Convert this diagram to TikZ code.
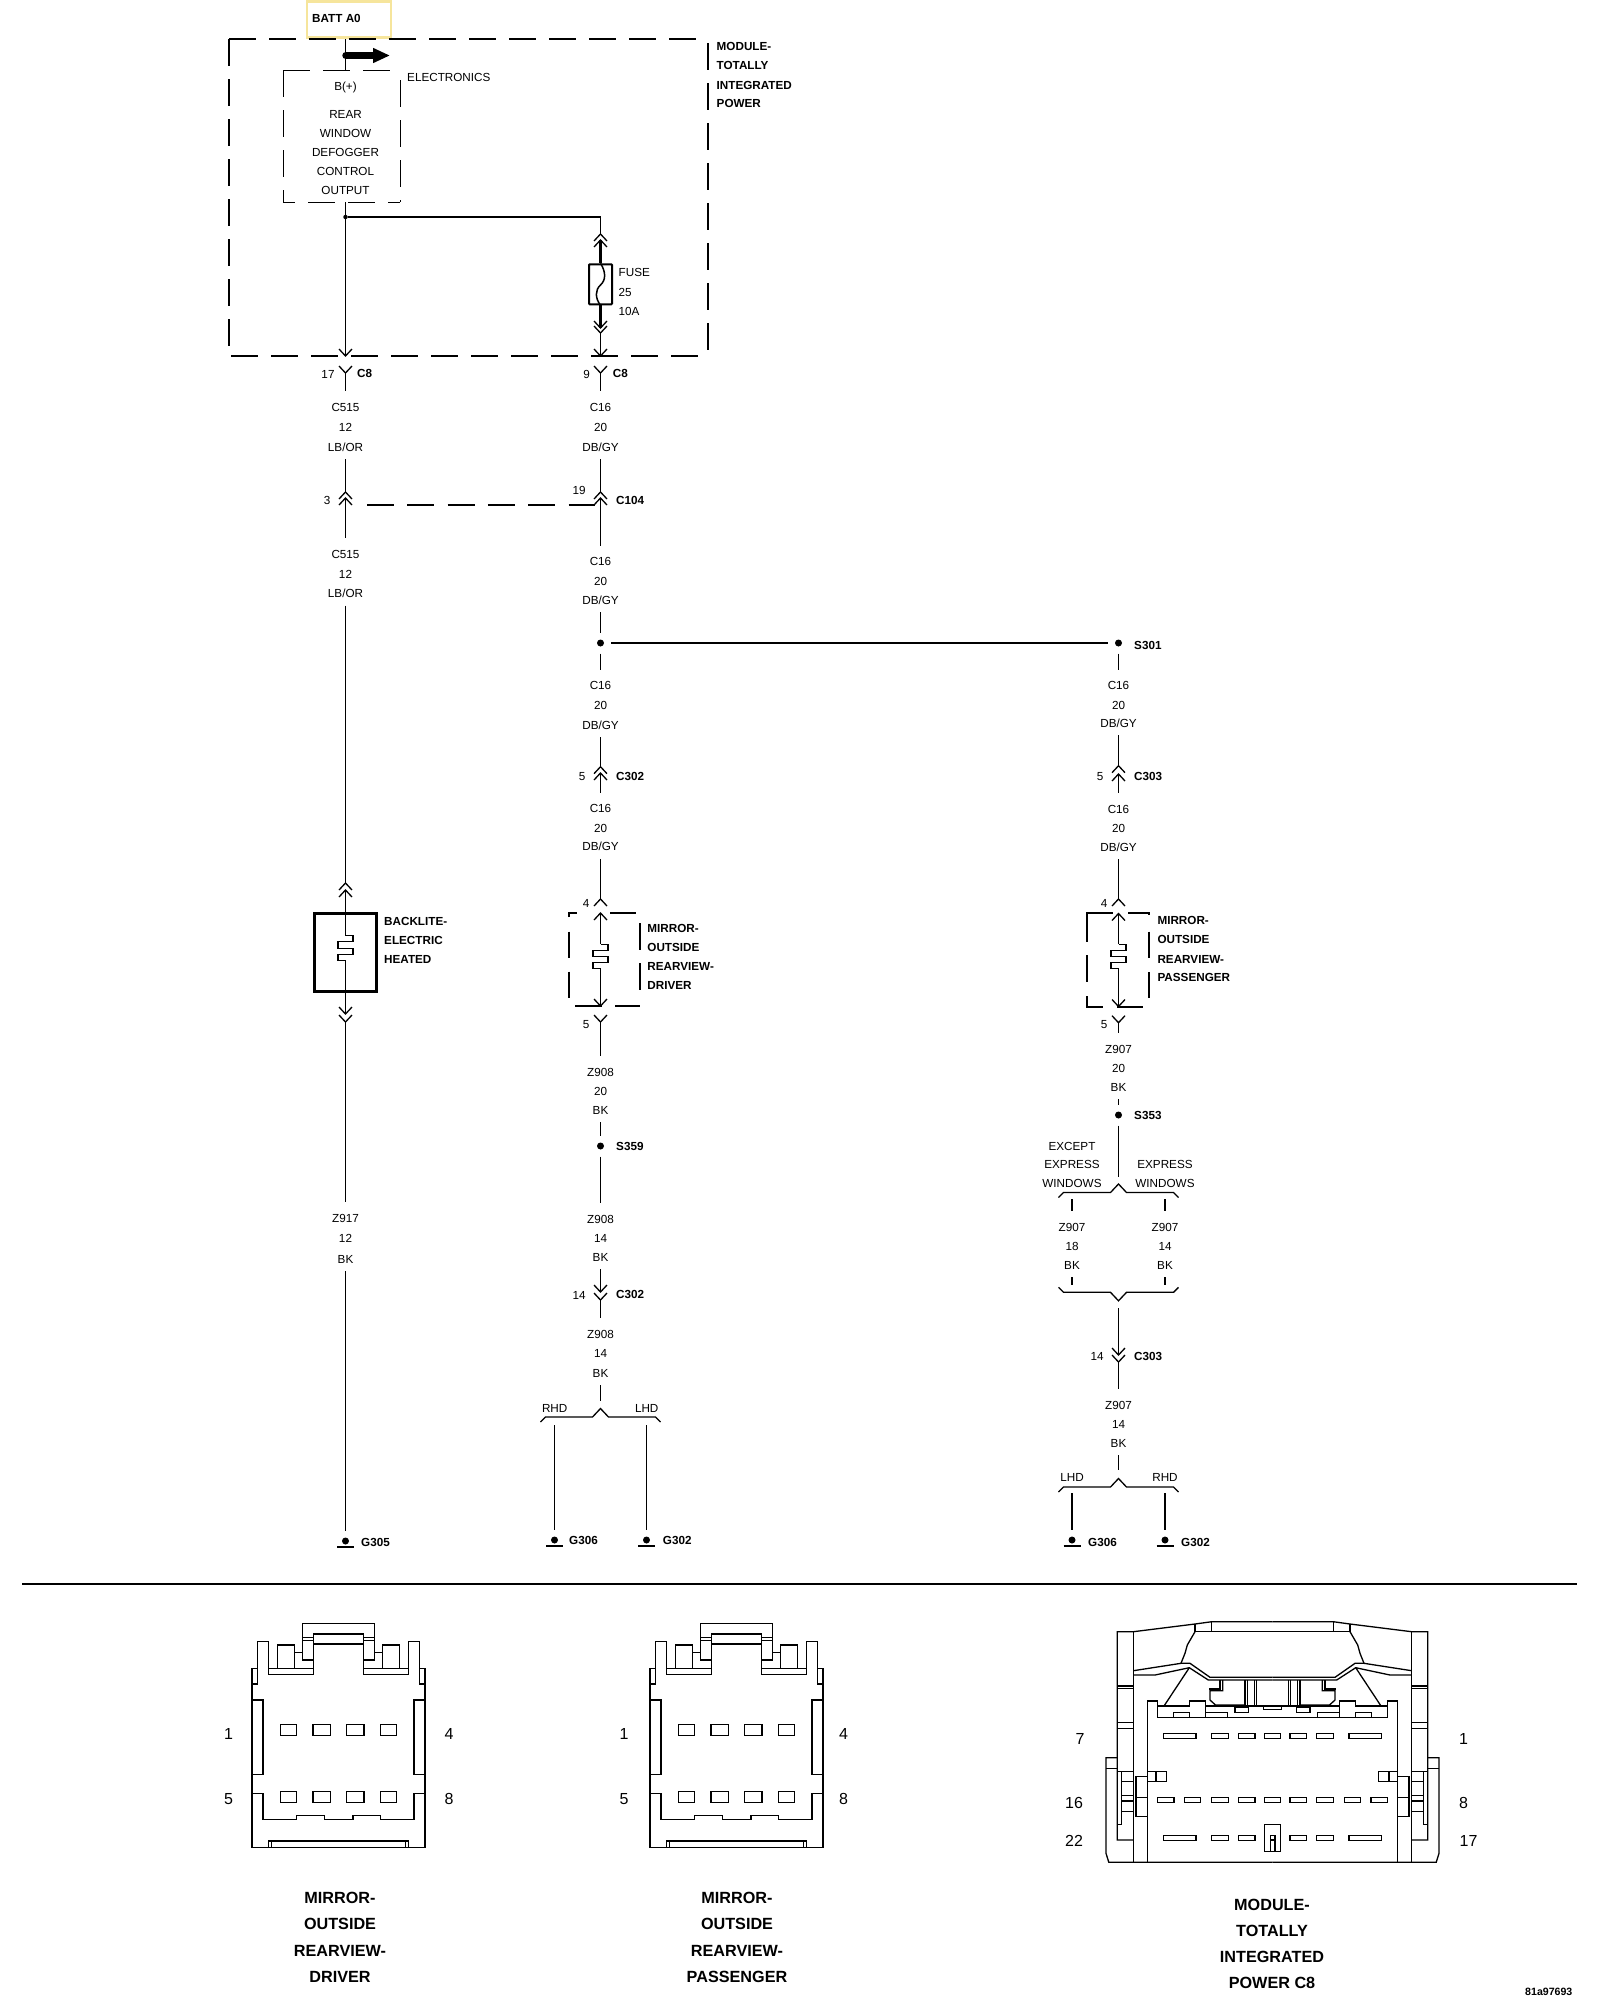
\documentclass[tikz,border=0pt]{standalone}
\usepackage{fontspec}
\setmainfont{Liberation Sans}
\usetikzlibrary{arrows.meta}
\definecolor{tagline}{HTML}{F6E59C}
\tikzset{
  wire/.style={line width=1.3pt},
  bwire/.style={line width=2.3pt},
  lbl/.style={font=\fontsize{11.7}{14}\selectfont,inner sep=0pt,text height=8.4pt,text depth=0pt},
  blbl/.style={lbl,font=\fontsize{11.7}{14}\selectfont\bfseries,anchor=west},
  pinl/.style={font=\fontsize{16}{18}\selectfont,inner sep=0pt,text height=11.5pt,text depth=0pt},
  capl/.style={font=\fontsize{16.2}{18}\selectfont\bfseries,inner sep=0pt,text height=11.6pt,text depth=0pt},
  dotn/.style={circle,fill,inner sep=0pt,minimum size=7pt,outer sep=7pt},
  gbar/.style={line width=2.2pt},
  modline/.style={line width=2.4pt,dash pattern=on 27pt off 13pt},
  elecline/.style={line width=1pt,dash pattern=on 27pt off 13pt},
  boxseg/.style={line width=2pt},
  tipup/.pic={\draw (-6.5,7)--(0,0)--(6.5,7);},
  tipdn/.pic={\draw (-6.5,-7)--(0,0)--(6.5,-7);},
  brkup/.pic={\draw (-60,5)--(-55,0)--(-8,0)--(0,-8.5)--(8,0)--(55,0)--(60,5);},
  brkdn/.pic={\draw (-60,-5)--(-55,0)--(-8,0)--(0,8.5)--(8,0)--(55,0)--(60,-5);},
  heater/.pic={\draw (0,0)--(7.5,0)--(7.5,6)--(-7.5,6)--(-7.5,12.5)--(7.5,12.5)--(7.5,18.5)--(-7.5,18.5)--(-7.5,24.5)--(0,24.5);},
  mirrorconn/.pic={
    \foreach \s in {1,-1}{
    \begin{scope}[x=0.41pt,y=-0.3333pt,xscale=\s]
      \draw (0,683)--(-211,683)--(-211,145)--(-198,145)--(-198,192)--(-211,192);
      \draw (-198,192)--(-198,65)--(-171,65)--(-171,163)--(-61,163)--(-61,120)--(-88,120)--(-88,62)--(-61,62)--(-61,120);
      \draw (-171,145)--(-61,145);
      \draw (-88,62)--(-88,10)--(0,10);
      \draw (-88,52)--(-61,52)--(-61,42)--(0,42);
      \draw (-61,52)--(-61,72)--(0,72);
      \draw (-149,145)--(-149,75)--(-107,75)--(-107,145);
      \draw (-107,97)--(-88,97);
      \draw (-211,240)--(-184,240)--(-184,463)--(-211,463);
      \draw (-211,520)--(-184,520)--(-184,598)--(-102,598)--(-102,587)--(-35,587)--(-35,598)--(0,598);
      \draw (-171,683)--(-171,663)--(0,663);
      \draw (-163,663)--(-163,683);
      \foreach \a/\b in {-142/-102,-62/-19}{
        \draw (\a,313) rectangle (\b,347);
        \draw (\a,514) rectangle (\b,548);
      }
    \end{scope}}
  },
  modconn/.pic={
    \foreach \s in {1,-1}{
    \begin{scope}[xscale=\s]
      \draw (0,1.7)--(-60.8,1.7)--(-77.5,4)--(-139.2,11.7)--(-155.2,11.7)--(-155.2,220)--(-139.2,220);
      \draw (-139.2,11.7)--(-139.2,242.3);
      \draw (-60.8,1.7)--(-60.8,11.7);
      \draw (-77.5,4)--(-77.5,11.7)--(0,11.7);
      \draw (-77.5,11.7)--(-85.2,25)--(-87.5,33.3)--(-91.5,43.3);
      \draw (-139.2,50.7)--(-91.5,43.3)--(-82.5,43.3)--(-62.5,57.3)--(0,57.3);
      \draw (-139.2,55)--(-117.5,55)--(-83.2,47.7)--(-64.2,60)--(0,60);
      \draw (-83.2,47.7)--(-108.5,86);
      \draw (-124.8,242.3)--(-124.8,81)--(-115.2,81)--(-115.2,97.3)--(0,97.3);
      \draw (-115.2,86)--(-83.2,86)--(-83.2,81)--(-66.8,81)--(-66.8,97.3);
      \draw (-66.8,86)--(0,86);
      \draw (-124.8,151.7)--(-105.8,151.7)--(-105.8,161.7)--(-124.8,161.7);
      \draw (-116.5,151.7)--(-116.5,161.7);
      \draw (-124.8,156.7)--(-136.5,156.7)--(-136.5,196.7)--(-124.8,196.7);
      \draw (-136.5,177.7)--(-124.8,177.7);
      \draw (-99.2,92.3) rectangle (-83.2,97.3);
      \draw (-66.8,92.3) rectangle (-45.2,97.3);
      \draw (-37.5,87.3) rectangle (-24.2,92.3);
      \draw (-9,86) rectangle (9,89.3);
      \foreach \y in {66,68.3,102.7,108.3,151.7}
        \draw (-155.2,\y)--(-139.2,\y);
      \foreach \y in {161.7,175.7,181,191.7}
        \draw (-150.8,\y)--(-139.2,\y);
      \draw (-150.8,151.7)--(-150.8,204.3)--(-155.2,204.3);
      \draw (-155.2,137.7)--(-166.5,137.7)--(-166.5,233.3)--(-163.7,242.3)--(0,242.3);
      \draw (-166.5,148.3)--(-155.2,148.3);
      \draw (-49.8,60)--(-49.8,70.7)--(-62.5,70.7)--(-62.5,80)--(-57,85)--(-27.5,85);
      \draw (-52.5,60)--(-52.5,69)--(-63.5,69);
      \foreach \a in {-27.5,-25.2,-18.2,-15.8}
        \draw (\a,60)--(\a,86);
      \foreach \a/\b in {-109/-76.6,-61/-44,-34/-17.6}{
        \draw (\a,113.3) rectangle (\b,118.3);
      }
      \foreach \a/\b in {-114.8/-98.6,-88/-71.7,-61/-44,-34/-17.6}
        \draw (\a,177.3) rectangle (\b,182.3);
      \foreach \a/\b in {-109/-76.6,-61/-44,-34/-17.6}
        \draw (\a,215.3) rectangle (\b,220.3);
    \end{scope}}
    \draw (-8.3,113.3) rectangle (8.3,118.3);
    \draw (-8.3,177.3) rectangle (8.3,182.3);
    \draw (-8.3,204.3) rectangle (8.3,231.3);
    \draw (-2,231.3)--(-2,215.3)--(2.5,215.3)--(2.5,231.3);
    \draw (-2,220)--(2.5,220);
  }
}
% one wire designation: three lines, first and last one keep the wire off
\newcommand{\wirelbl}[6][19.5]{
  \node[lbl,inner ysep=11.3pt] (#2t) at (#3,#4) {#5};
  \node[lbl] (#2m) at (#3,{#4+#1}) {#6};
}
\newcommand{\wirelast}[4]{
  \node[lbl,inner ysep=7.8pt] (#1b) at (#2,#3) {#4};
}

\begin{document}
\begin{tikzpicture}[x=1pt,y=-1pt,every pic/.style={wire},line join=miter]
\useasboundingbox (0,0) rectangle (1600,2000);

% module
\node[draw=tagline,line width=2.6pt,minimum width=84pt,minimum height=36pt,inner sep=0pt] (batt) at (349,19.5) {};
\node[blbl] (battl) at (312,18.7) {BATT A0};
\coordinate (mtl) at (229,39);
\coordinate (mtr) at (700,39);
\coordinate (mrt) at (708,43);
\coordinate (mrb) at (708,354);
\coordinate (mbl) at (231,356);
\coordinate (mbr) at (700,356);
\coordinate (mlb) at (229,346);
\draw[modline] (mtl)--(mtr);
\draw[modline] (mrt)--(mrb);
\draw[modline] (mbl)--(mbr);
\draw[modline] (mtl)--(mlb);
\foreach \y/\t [count=\i] in {46.7/MODULE-,65.7/TOTALLY,85/INTEGRATED,103.7/POWER}
  \node[blbl] (mod\i) at (716.5,\y) {\t};
\coordinate (etl) at (283,70);
\coordinate (etr) at (400,70);
\coordinate (ebl) at (283,202);
\coordinate (ebr) at (400,202);
\draw[elecline] (etl)--(etr);
\draw[elecline] (etl)--(ebl);
\draw[elecline,dash phase=15pt] (ebl)--(ebr);
\draw[elecline,dash phase=30pt] (etr)--(ebr);
\node[lbl,anchor=west] (elec) at (407,77.7) {ELECTRONICS};
\node[lbl] (bplus) at (345.5,86) {B(+)};
\foreach \y/\t [count=\i] in {114.7/REAR,133.7/WINDOW,152.7/DEFOGGER,171.7/CONTROL,190.7/OUTPUT}
  \node[lbl] (ctl\i) at (345.5,\y) {\t};
\coordinate (bin) at (345.5,39);
\coordinate (bout) at (345.5,70);
\draw[wire] (bin)--(bout);
\coordinate (feeda) at (346,55.5);
\coordinate (feedb) at (390,55.5);
\draw[line width=7.5pt,line cap=round,-{Triangle[length=17pt,width=14pt]}] (feeda)--(feedb);

% fuse
\coordinate (ctlo) at (345.5,202);
\node[circle,fill,inner sep=0pt,minimum size=4.5pt] (fj) at (345.5,217) {};
\coordinate (fjr) at (600.5,217);
\coordinate (fa) at (600.5,234);
\coordinate (fb) at (600.5,240);
\node[draw,line width=2pt,rounded corners=0.8pt,minimum width=23pt,minimum height=40pt,inner sep=0pt] (fuse) at (600.5,284.3) {};
\coordinate (fc) at (600.5,328);
\coordinate (fd) at (600.5,333);
\coordinate (c8at) at (345.5,356);
\coordinate (c8bt) at (600.5,356);
\draw[wire] (fj)--(fjr)--(fa);
\draw[wire] (ctlo)--(c8at);
\pic at (fa) {tipup};
\pic at (fb) {tipup};
\draw[bwire] (fb)--(fuse);
\draw[bwire] (fuse)--(fc);
\draw[line width=1.5pt] (fuse.north) .. controls (606,272) and (606,280) .. (600.5,285) .. controls (595,290) and (595,298) .. (fuse.south);
\pic at (fc) {tipdn};
\pic at (fd) {tipdn};
\draw[wire] (fd)--(c8bt);
\pic at (c8at) {tipdn};
\pic at (c8bt) {tipdn};
\foreach \y/\t [count=\i] in {272/FUSE,292/25,311/10A}
  \node[lbl,anchor=west] (fus\i) at (618.5,\y) {\t};

% left branch
\coordinate (c8a) at (345.5,373);
\pic at (c8a) {tipdn};
\node[lbl] (pin17) at (328,374) {17};
\node[blbl] (c8al) at (357,373) {C8};
\wirelbl[20]{wa}{345.5}{407}{C515}{12}
\wirelast{wa}{345.5}{447}{LB/OR}
\coordinate (c3t) at (345.5,492);
\coordinate (c3b) at (345.5,498);
\pic at (c3t) {tipup};
\pic at (c3b) {tipup};
\node[lbl] (pin3) at (327,500) {3};
\wirelbl[20]{wb}{345.5}{554}{C515}{12}
\wirelast{wb}{345.5}{593.5}{LB/OR}
\coordinate (blt) at (345.5,883);
\coordinate (blb) at (345.5,890);
\draw[wire] (c8a)--(wat);
\draw[wire] (wab)--(c3t);
\draw[wire] (c3b)--(wbt);
\draw[wire] (wbb)--(blt);
\pic[bwire] at (blt) {tipup};
\pic[bwire] at (blb) {tipup};
\node[draw,line width=2.5pt,minimum width=62pt,minimum height=78pt,inner sep=0pt] (blite) at (345.5,952.5) {};
\coordinate (hta) at (345.5,935.7);
\coordinate (hab) at (345.5,960.2);
\pic at (hta) {heater};
\coordinate (bda) at (345.5,1014);
\coordinate (bdb) at (345.5,1022);
\draw[wire] (blb)--(hta);
\draw[wire] (hab)--(bda);
\pic at (bda) {tipdn};
\pic at (bdb) {tipdn};
\foreach \y/\t [count=\i] in {921/BACKLITE-,940/ELECTRIC,959/HEATED}
  \node[blbl] (bk\i) at (384,\y) {\t};
\wirelbl[20.5]{wc}{345.5}{1218}{Z917}{12}
\wirelast{wc}{345.5}{1259}{BK}
\node[dotn] (g305) at (345.5,1541) {};
\node[blbl] (g305l) at (361,1542.5) {G305};
\draw[wire] (bdb)--(wct);
\draw[wire] (wcb)--(g305);

% middle branch
\coordinate (c8b) at (600.5,373);
\pic at (c8b) {tipdn};
\node[lbl] (pin9) at (586.7,374) {9};
\node[blbl] (c8bl) at (612.7,373) {C8};
\wirelbl[20]{wd}{600.5}{407}{C16}{20}
\wirelast{wd}{600.5}{447}{DB/GY}
\coordinate (c104t) at (600.5,492);
\coordinate (c104b) at (600.5,498);
\pic[bwire] at (c104t) {tipup};
\pic[bwire] at (c104b) {tipup};
\node[lbl] (pin19) at (579,490) {19};
\node[blbl] (c104l) at (616,500) {C104};
\coordinate (sha) at (367,505);
\coordinate (shb) at (595,505);
\draw[line width=1.1pt,dash pattern=on 27pt off 13.3pt] (sha)--(shb);
\wirelbl{we}{600.5}{561.7}{C16}{20}
\wirelast{we}{600.5}{600}{DB/GY}
\node[dotn] (s300) at (600.5,643) {};
\wirelbl{wf}{600.5}{685.7}{C16}{20}
\wirelast{wf}{600.5}{725}{DB/GY}
\coordinate (c302t) at (600.5,766.7);
\coordinate (c302b) at (600.5,773);
\pic at (c302t) {tipup};
\pic at (c302b) {tipup};
\node[lbl] (pin5a) at (582,776) {5};
\node[blbl] (c302l) at (616,776) {C302};
\wirelbl{wg}{600.5}{808.7}{C16}{20}
\wirelast{wg}{600.5}{846.7}{DB/GY}
\coordinate (mda) at (600.5,899);
\coordinate (mdb) at (600.5,913);
\coordinate (mdh) at (600.5,944.3);
\coordinate (mdi) at (600.5,968.8);
\coordinate (mdc) at (600.5,1006);
\coordinate (mdd) at (600.5,1022);
\draw[wire] (c8b)--(wdt);
\draw[wire] (wdb)--(c104t);
\draw[wire] (c104b)--(wet);
\draw[wire] (web)--(s300);
\draw[wire] (s300)--(wft);
\draw[wire] (wfb)--(c302t);
\draw[wire] (c302b)--(wgt);
\draw[wire] (wgb)--(mda);
\pic at (mda) {tipup};
\pic at (mdb) {tipup};
\pic at (mdh) {heater};
\draw[wire] (mdb)--(mdh);
\draw[wire] (mdi)--(mdc);
\pic at (mdc) {tipdn};
\pic at (mdd) {tipdn};
\node[lbl] (pin4a) at (586,903) {4};
\node[lbl] (pin5b) at (586,1024) {5};
\draw[boxseg] (569.3,917)--(569.3,913)--(577.3,913) (610,913)--(636,913) (569.3,931.7)--(569.3,958.3) (569.3,971.7)--(569.3,998.3)
  (640,923.3)--(640,950) (640,963.3)--(640,990) (575,1006)--(601.7,1006) (615,1006)--(640,1006);
\foreach \y/\t [count=\i] in {928.7/MIRROR-,947.7/OUTSIDE,966.7/REARVIEW-,985/DRIVER}
  \node[blbl] (md\i) at (647.2,\y) {\t};
\wirelbl{wh}{600.5}{1072}{Z908}{20}
\wirelast{wh}{600.5}{1110}{BK}
\node[dotn] (s359) at (600.5,1146) {};
\node[blbl] (s359l) at (616,1146) {S359};
\wirelbl{wi}{600.5}{1219}{Z908}{14}
\wirelast{wi}{600.5}{1257}{BK}
\coordinate (c30t) at (600.5,1292);
\coordinate (c30b) at (600.5,1300);
\pic at (c30t) {tipdn};
\pic at (c30b) {tipdn};
\node[lbl] (pin14a) at (579,1295) {14};
\node[blbl] (c302m) at (616,1294) {C302};
\wirelbl{wj}{600.5}{1334}{Z908}{14}
\wirelast{wj}{600.5}{1373}{BK}
\coordinate (bra) at (600.5,1401);
\coordinate (brb) at (600.5,1417);
\pic at (brb) {brkup};
\draw[wire] (mdd)--(wht);
\draw[wire] (whb)--(s359);
\draw[wire] (s359)--(wit);
\draw[wire] (wib)--(c30t);
\draw[wire] (c30b)--(wjt);
\draw[wire] (wjb)--(bra);
\node[lbl] (rhda) at (554.7,1408) {RHD};
\node[lbl] (lhda) at (646.7,1408) {LHD};
\coordinate (gaa) at (554.5,1425);
\coordinate (gba) at (646.5,1425);
\node[dotn] (g306a) at (554.5,1540) {};
\node[dotn] (g302a) at (646.5,1540) {};
\draw[wire] (gaa)--(g306a);
\draw[wire] (gba)--(g302a);
\node[blbl] (g306al) at (569,1540) {G306};
\node[blbl] (g302al) at (662.7,1540) {G302};

% right branch
\node[dotn] (s301) at (1118.5,643) {};
\draw[bwire] (s300)--(s301);
\node[blbl] (s301l) at (1134,645) {S301};
\wirelbl{wk}{1118.5}{685.7}{C16}{20}
\wirelast{wk}{1118.5}{723}{DB/GY}
\coordinate (c303t) at (1118.5,765.7);
\coordinate (c303b) at (1118.5,774);
\pic[bwire] at (c303t) {tipup};
\pic[bwire] at (c303b) {tipup};
\node[lbl] (pin5c) at (1100,776) {5};
\node[blbl] (c303l) at (1134,776) {C303};
\wirelbl{wl}{1118.5}{809}{C16}{20}
\wirelast{wl}{1118.5}{847}{DB/GY}
\coordinate (mpa) at (1118.5,899);
\coordinate (mpb) at (1118.5,913.5);
\coordinate (mph) at (1118.5,944.3);
\coordinate (mpi) at (1118.5,968.8);
\coordinate (mpc) at (1118.5,1006.5);
\coordinate (mpd) at (1118.5,1022.7);
\draw[wire] (s301)--(wkt);
\draw[wire] (wkb)--(c303t);
\draw[wire] (c303b)--(wlt);
\draw[wire] (wlb)--(mpa);
\pic at (mpa) {tipup};
\pic at (mpb) {tipup};
\pic at (mph) {heater};
\draw[wire] (mpb)--(mph);
\draw[wire] (mpi)--(mpc);
\pic at (mpc) {tipdn};
\pic at (mpd) {tipdn};
\node[lbl] (pin4b) at (1104,903) {4};
\node[lbl] (pin5d) at (1104,1024) {5};
\draw[boxseg] (1087.3,941.7)--(1087.3,913.3)--(1113.3,913.3) (1128.3,913.3)--(1149.3,913.3)--(1149.3,915) (1087.3,955)--(1087.3,981.7)
  (1087.3,996)--(1087.3,1006.7)--(1103.3,1006.7) (1117.3,1006.7)--(1143.3,1006.7) (1149.3,931.7)--(1149.3,958.3) (1149.3,972.3)--(1149.3,998.3);
\foreach \y/\t [count=\i] in {920.7/MIRROR-,939.7/OUTSIDE,959/REARVIEW-,977.7/PASSENGER}
  \node[blbl] (mp\i) at (1157.3,\y) {\t};
\wirelbl{wm}{1118.5}{1049}{Z907}{20}
\wirelast{wm}{1118.5}{1087}{BK}
\node[dotn] (s353) at (1118.5,1115) {};
\node[blbl] (s353l) at (1134,1115) {S353};
\draw[wire] (mpd)--(wmt);
\draw[wire] (wmb)--(s353);
\coordinate (brc) at (1118.5,1177);
\coordinate (brd) at (1118.5,1192.5);
\pic at (brd) {brkup};
\draw[wire] (s353)--(brc);
\foreach \y/\t [count=\i] in {1146/EXCEPT,1164.5/EXPRESS,1183.5/WINDOWS}
  \node[lbl] (exc\i) at (1072,\y) {\t};
\foreach \y/\t [count=\i] in {1164.5/EXPRESS,1183.5/WINDOWS}
  \node[lbl] (exp\i) at (1165,\y) {\t};
\coordinate (xa) at (1072,1199);
\coordinate (xb) at (1165,1199);
\wirelbl{wn}{1072}{1227}{Z907}{18}
\wirelast{wn}{1072}{1265}{BK}
\wirelbl{wo}{1165}{1227}{Z907}{14}
\wirelast{wo}{1165}{1265}{BK}
\coordinate (xc) at (1072,1285);
\coordinate (xd) at (1165,1285);
\draw[wire] (xa)--(wnt);
\draw[wire] (xb)--(wot);
\draw[wire] (wnb)--(xc);
\draw[wire] (wob)--(xd);
\coordinate (bre) at (1118.5,1292.3);
\pic at (bre) {brkdn};
\coordinate (brf) at (1118.5,1308);
\coordinate (c33t) at (1118.5,1355);
\coordinate (c33b) at (1118.5,1362);
\pic at (c33t) {tipdn};
\pic at (c33b) {tipdn};
\node[lbl] (pin14b) at (1097,1356) {14};
\node[blbl] (c303m) at (1134,1356) {C303};
\wirelbl{wp}{1118.5}{1405}{Z907}{14}
\wirelast{wp}{1118.5}{1443}{BK}
\coordinate (brg) at (1118.5,1470);
\coordinate (brh) at (1118.5,1487);
\pic at (brh) {brkup};
\draw[wire] (brf)--(c33t);
\draw[wire] (c33b)--(wpt);
\draw[wire] (wpb)--(brg);
\node[lbl] (lhdb) at (1072,1477) {LHD};
\node[lbl] (rhdb) at (1165,1477) {RHD};
\coordinate (gab) at (1072,1493);
\coordinate (gbb) at (1165,1493);
\node[dotn] (g306b) at (1072,1540) {};
\node[dotn] (g302b) at (1165,1540) {};
\draw[wire] (gab)--(g306b);
\draw[wire] (gbb)--(g302b);
\node[blbl] (g306bl) at (1088,1542) {G306};
\node[blbl] (g302bl) at (1181,1542) {G302};
\foreach \n in {g305,g306a,g302a,g306b,g302b}
  \draw[gbar] ([shift={(-8.5,6)}]\n.center)--([shift={(8.5,6)}]\n.center);

% connector views
\coordinate (sepa) at (22,1584);
\coordinate (sepb) at (1577,1584);
\draw[line width=2pt] (sepa)--(sepb);
\pic[line width=1.3pt] at (338.5,1620) {mirrorconn};
\pic[line width=1.3pt] at (736.5,1620) {mirrorconn};
\pic[line width=1.3pt] at (1272.5,1620) {modconn};
\foreach \x/\y/\t [count=\i] in {228.5/1734/1,228.5/1799/5,449/1734/4,449/1799/8,624/1734/1,624/1799/5,843.5/1734/4,843.5/1799/8,
  1080/1739/7,1074/1803/16,1074/1841/22,1463.5/1739/1,1463.5/1803/8,1468.5/1841/17}
  \node[pinl] (vp\i) at (\x,\y) {\t};
\foreach \y/\t [count=\i] in {1898/MIRROR-,1924/OUTSIDE,1950.7/REARVIEW-,1976.7/DRIVER}
  \node[capl] (vd\i) at (340,\y) {\t};
\foreach \y/\t [count=\i] in {1898/MIRROR-,1924/OUTSIDE,1950.7/REARVIEW-,1976.7/PASSENGER}
  \node[capl] (vq\i) at (737,\y) {\t};
\foreach \y/\t [count=\i] in {1904.7/MODULE-,1930.7/TOTALLY,1956.7/INTEGRATED,1982.7/POWER C8}
  \node[capl] (vm\i) at (1272,\y) {\t};
\node[font=\fontsize{10.6}{12}\selectfont\bfseries,inner sep=0pt,anchor=west] (dwgno) at (1525,1992) {81a97693};
\end{tikzpicture}
\end{document}
